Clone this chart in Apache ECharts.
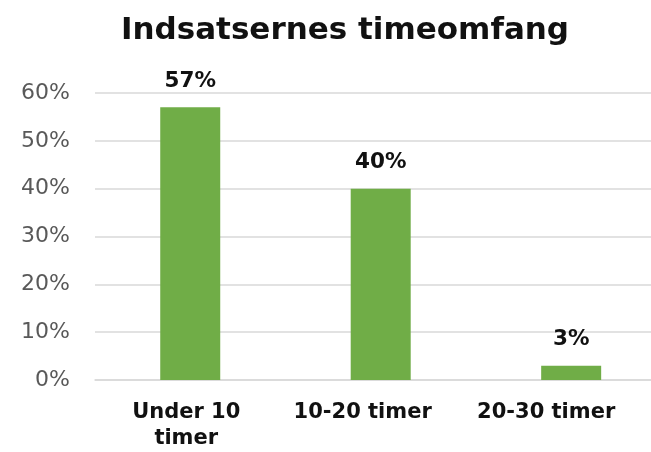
<!DOCTYPE html>
<html lang="da">

<head>
  <meta charset="UTF-8">
  <title>Indsatsernes timeomfang</title>
  <script src="https://cdn.jsdelivr.net/npm/echarts@6/dist/echarts.min.js"></script>
</head>

<body style="margin:0;overflow:hidden;">
  <!-- the original is cut off on the right, so the chart box is a bit wider than the window -->
  <div id="chart" style="width:668px;height:452px;"></div>

  <script>
    // data
    var categories = ['Under 10\ntimer', '10-20 timer', '20-30 timer']
    var values = [57, 40, 3]
    var yTicks = [0, 10, 20, 30, 40, 50, 60]
    // category labels in the original sit a bit left of their bars
    var labelShift = [4, 18, 25]

    var mCharts = echarts.init(document.getElementById('chart'))

    var option = {
      animation: false,
      backgroundColor: '#fff',
      title: {
        text: 'Indsatsernes timeomfang',
        left: 340,
        textAlign: 'center',
        top: 10,
        textStyle: {
          fontFamily: 'DejaVu Sans',
          fontWeight: 'bold',
          fontSize: 31,
          color: '#111'
        }
      },
      grid: {
        left: 95,
        right: 0,
        top: 93,
        bottom: 64
      },
      xAxis: {
        type: 'category',
        data: categories.map(function (c, i) {
          return { value: c, textStyle: { padding: [0, labelShift[i] * 2, 0, 0] } }
        }),
        axisTick: { show: false },
        axisLine: { lineStyle: { color: '#d9d9d9', width: 1.5 } },
        axisLabel: {
          color: '#111',
          fontFamily: 'DejaVu Sans',
          fontWeight: 'bold',
          fontSize: 21,
          lineHeight: 26,
          margin: 20
        }
      },
      yAxis: {
        type: 'value',
        min: yTicks[0],
        max: yTicks[yTicks.length - 1],
        interval: 10,
        axisLabel: {
          formatter: '{value}%',
          color: '#595959',
          fontFamily: 'DejaVu Sans',
          fontSize: 22,
          margin: 25
        },
        splitLine: { lineStyle: { color: '#d9d9d9', width: 1.5 } }
      },
      series: [
        {
          type: 'bar',
          data: values,
          barWidth: 60,
          itemStyle: { color: '#70ad47' },
          label: {
            show: true,
            position: 'top',
            distance: 15,
            formatter: '{c}%',
            color: '#111',
            fontFamily: 'DejaVu Sans',
            fontWeight: 'bold',
            fontSize: 21.5
          }
        }
      ]
    }

    mCharts.setOption(option)
  </script>
</body>

</html>
